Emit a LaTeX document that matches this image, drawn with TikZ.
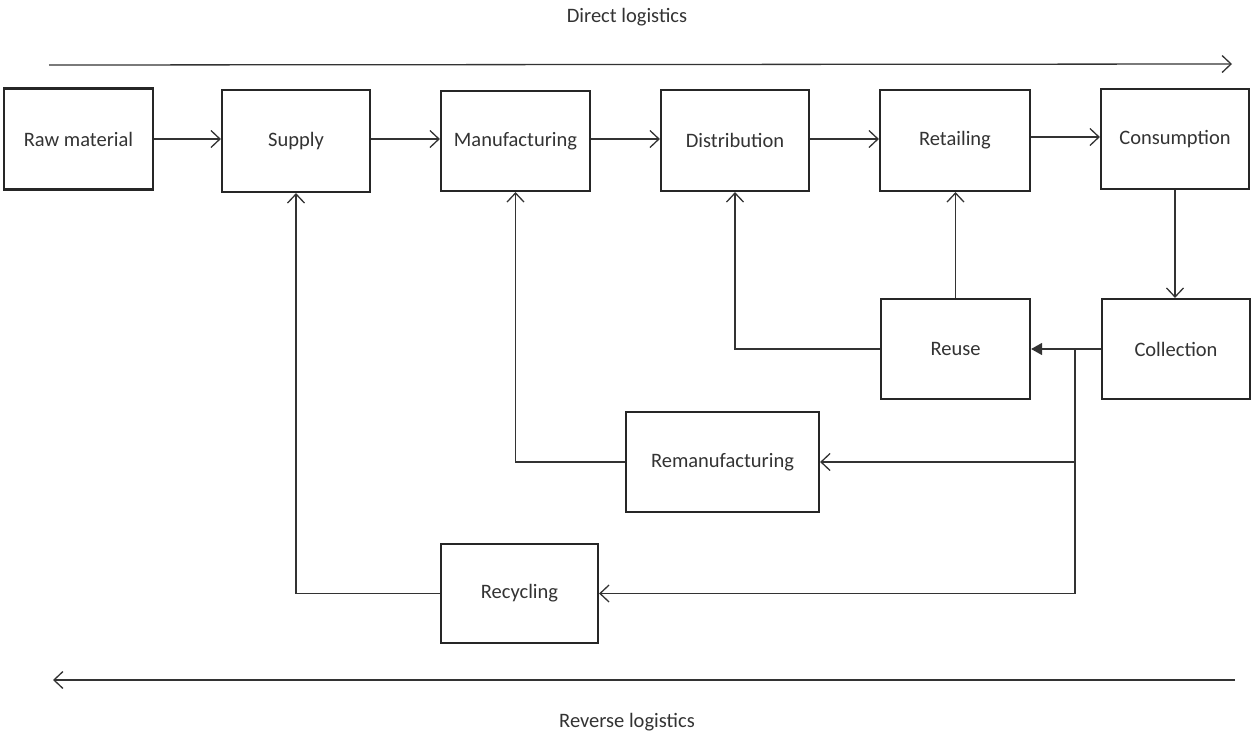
\documentclass[tikz,border=0pt]{standalone}
\usepackage{fontspec}
\setmainfont{Carlito}
\usetikzlibrary{arrows.meta}
\begin{document}
\begin{tikzpicture}[x=1pt,y=-1pt,
  stage/.style={draw=black!85, line width=2.2pt, fill=white, inner sep=0pt,
    text=black!80, font=\fontsize{20.5}{24}\selectfont},
  flow/.style={draw=black!80, line width=1.3pt, -{Straight Barb[length=9pt,width=17pt,line width=1.3pt]}},
  solidflow/.style={draw=black!80, line width=1.3pt, -{Triangle[length=11pt,width=12pt]}},
  caption/.style={text=black!80, font=\fontsize{20.5}{24}\selectfont}]
\useasboundingbox (0,0) rectangle (1251,742);

% forward chain
\node[stage, minimum width=149pt, minimum height=101pt] (raw)  at (78.5,139)  {Raw material};
\node[stage, minimum width=148pt, minimum height=102pt] (sup)  at (296,141)   {Supply};
\node[stage, minimum width=149pt, minimum height=100pt] (man)  at (515.5,141) {Manufacturing};
\node[stage, minimum width=148pt, minimum height=101pt] (dis)  at (735,140.5) {Distribution};
\node[stage, minimum width=150pt, minimum height=101pt] (ret)  at (955,140.5) {Retailing};
\node[stage, minimum width=148pt, minimum height=100pt] (con)  at (1175,139)  {Consumption};

% reverse chain
\node[stage, minimum width=149pt, minimum height=100pt] (reu)  at (955.5,349) {Reuse};
\node[stage, minimum width=148pt, minimum height=100pt] (col)  at (1176,349)  {Collection};
\node[stage, minimum width=193pt, minimum height=100pt] (rem)  at (722.5,462) {Remanufacturing};
\node[stage, minimum width=157pt, minimum height=99pt]  (rec)  at (519.5,593.5) {Recycling};

% forward arrows
\draw[flow] (raw.east) -- (raw.east -| sup.west);
\draw[flow] (sup.east |- 0,139) -- (man.west |- 0,139);
\draw[flow] (man.east |- 0,139) -- (dis.west |- 0,139);
\draw[flow] (dis.east |- 0,139) -- (ret.west |- 0,139);
\draw[flow] (ret.east |- 0,137) -- (con.west |- 0,137);
\draw[flow] (con.south) -- (con.south |- col.north);

% reverse arrows
\coordinate (junc) at (1075,349);
\draw[solidflow] (col.west) -- (reu.east);
\draw[flow] (junc) |- (rem.east);
\draw[flow] (junc) |- (rec.east);
\draw[flow] (reu.north) -- (reu.north |- ret.south);
\draw[flow] (reu.west) -| (dis.south);
\draw[flow] (rem.west) -| (man.south);
\draw[flow] (rec.west) -| (sup.south);

% logistics direction arrows
\coordinate (dlA) at (49,65);
\coordinate (dlB) at (1232,64);
\coordinate (rlA) at (1235,680);
\coordinate (rlB) at (53,680);
\draw[flow] (dlA) -- (dlB);
\draw[flow] (rlA) -- (rlB);
\node[caption] (dlt) at (627,17)  {Direct logistics};
\node[caption] (rlt) at (627,722) {Reverse logistics};
\end{tikzpicture}
\end{document}
